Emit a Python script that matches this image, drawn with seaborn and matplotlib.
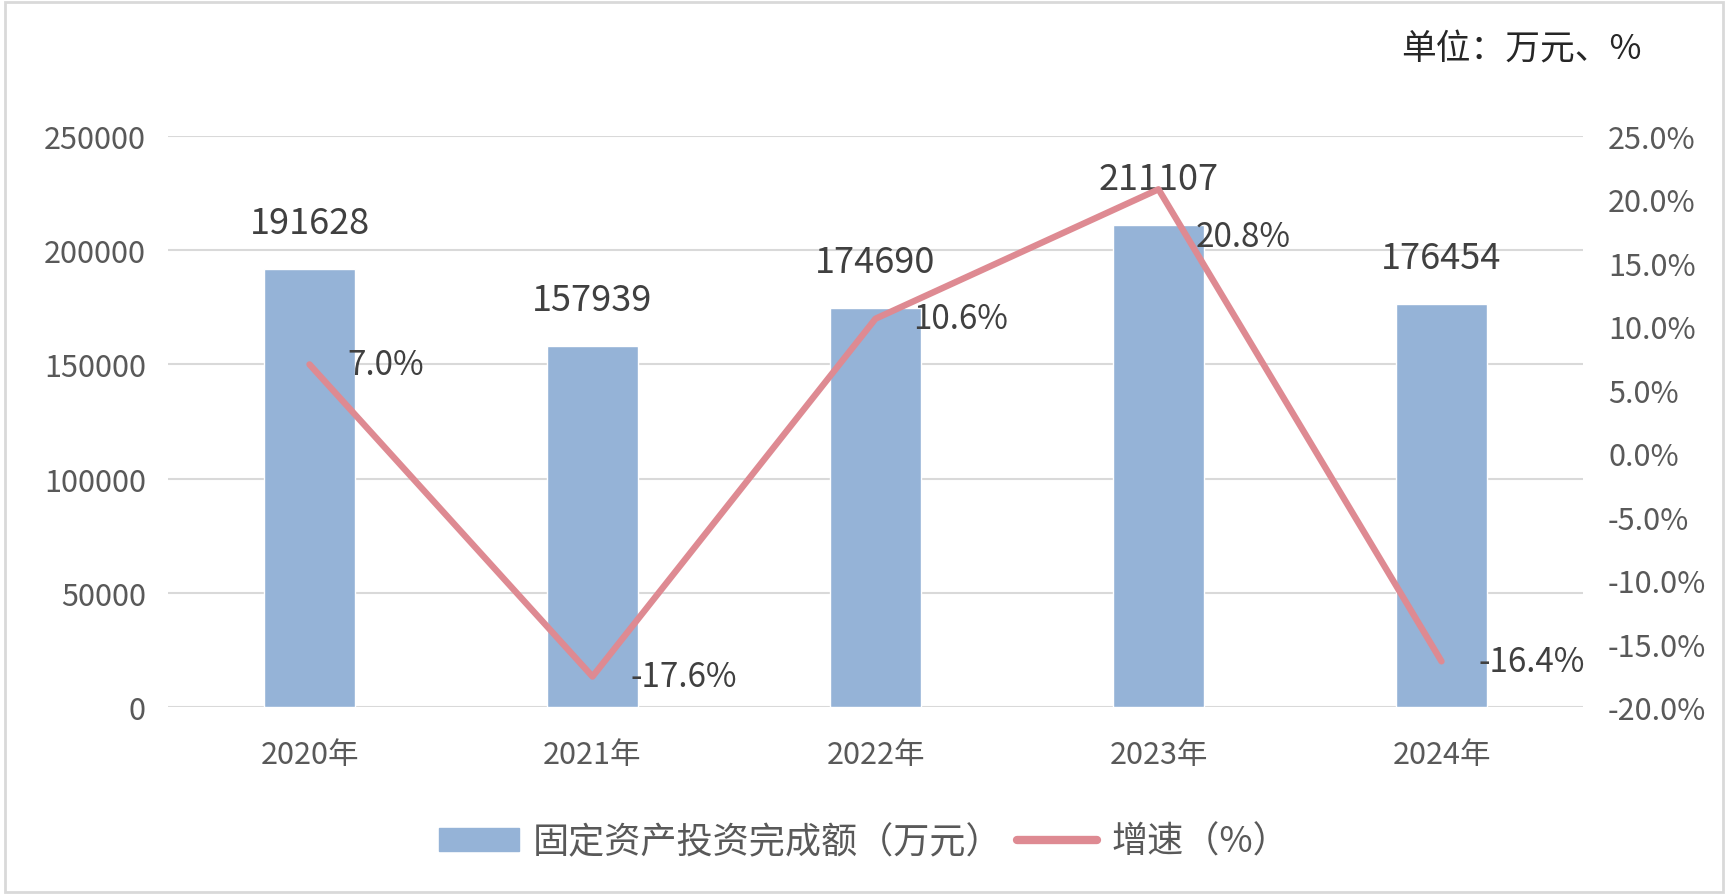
import matplotlib
matplotlib.use('Agg')
import matplotlib.pyplot as plt
import matplotlib.patches as mpatches
from matplotlib.lines import Line2D
import seaborn as sns
import pandas as pd

# Chart data
years = ['2020年', '2021年', '2022年', '2023年', '2024年']
investment = [191628, 157939, 174690, 211107, 176454]
growth = [7.0, -17.6, 10.6, 20.8, -16.4]
left_ticks = [0, 50000, 100000, 150000, 200000, 250000]
right_ticks = [-20, -15, -10, -5, 0, 5, 10, 15, 20, 25]

bar_name = '固定资产投资完成额（万元）'
line_name = '增速（%）'
unit_text = '单位：万元、%'

bar_color = '#95B3D7'
line_color = '#DE8A92'
tick_color = '#595959'
label_color = '#404040'

sns.set_theme(style='white')
plt.rcParams['font.family'] = ['Noto Sans CJK SC', 'DejaVu Sans']

df = pd.DataFrame({'year': years, 'value': investment, 'growth': growth})

fig = plt.figure(figsize=(17.28, 8.95), dpi=100)
ax = fig.add_axes([168 / 1728, 1 - 708 / 895, (1583 - 168) / 1728, (708 - 137) / 895])

# Bars (left axis)
sns.barplot(data=df, x='year', y='value', color=bar_color, width=0.32,
            saturation=1, ax=ax, zorder=2)
ax.set_ylim(0, 250000)
ax.set_yticks(left_ticks)
ax.set_yticklabels([str(t) for t in left_ticks])
ax.set_xlim(-0.5, 4.5)
ax.yaxis.grid(True, color='#D9D9D9', linewidth=1.5)
ax.set_axisbelow(True)
ax.set_xlabel('')
ax.set_ylabel('')
for s in ax.spines.values():
    s.set_visible(False)
ax.tick_params(axis='y', labelsize=22, labelcolor=tick_color, length=0, pad=16)
ax.tick_params(axis='x', labelsize=22, labelcolor=tick_color, length=0, pad=23)

for i, v in enumerate(investment):
    ax.annotate(str(v), xy=(i, v), xytext=(0, 33), textcoords='offset points',
                ha='center', va='center', fontsize=26, color=label_color, zorder=5)

# Growth line (right axis)
ax2 = ax.twinx()
sns.pointplot(data=df, x='year', y='growth', color=line_color, markers='',
              linewidth=4.6, ax=ax2, zorder=3)
ax2.set_ylim(-20, 25)
ax2.set_yticks(right_ticks)
ax2.set_yticklabels([f'{t:.1f}%' for t in right_ticks])
ax2.set_xlim(-0.5, 4.5)
ax2.grid(False)
ax2.set_ylabel('')
ax2.set_xlabel('')
for s in ax2.spines.values():
    s.set_visible(False)
ax2.tick_params(axis='y', labelsize=22, labelcolor=tick_color, length=0, pad=18)

for i, g in enumerate(growth):
    dy = -34 if i == 3 else 0
    ax2.annotate(f'{g:.1f}%', xy=(i, g), xytext=(27, dy), textcoords='offset points',
                 ha='left', va='center', fontsize=24, color=label_color, zorder=5)

# Unit text
fig.text(1642 / 1728, 1 - 50 / 895, unit_text, ha='right', va='center',
         fontsize=25, color='#262626')

# Legend
handles = [mpatches.Patch(color=bar_color),
           Line2D([0], [0], color=line_color, linewidth=6)]
fig.legend(handles, [bar_name, line_name], loc='center', bbox_to_anchor=(0.5, 1 - 843 / 895),
           ncol=2, frameon=False, fontsize=26, handlelength=2.2, handleheight=0.6,
           handletextpad=0.4, columnspacing=0.4, labelcolor=tick_color)

# Outer border
fig.add_artist(mpatches.Rectangle((5 / 1728, 2 / 895), 1718 / 1728, 890 / 895,
                                  transform=fig.transFigure, fill=False,
                                  edgecolor='#D9D9D9', linewidth=2))

fig.savefig('out.png', dpi=100)
